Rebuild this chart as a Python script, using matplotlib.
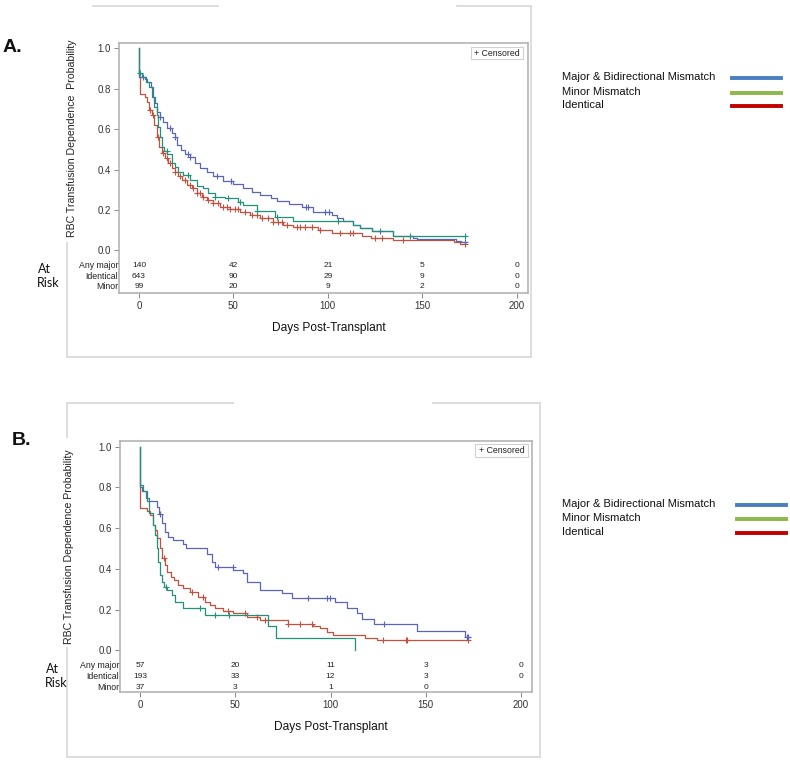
import numpy as np
import matplotlib
matplotlib.use("Agg")
import matplotlib.pyplot as plt
from matplotlib.lines import Line2D

plt.rcParams['font.family'] = ['Liberation Sans', 'DejaVu Sans']

# ---------------- DATA ----------------
groups = ["Any major", "Identical", "Minor"]
legend_labels = ["Major & Bidirectional Mismatch", "Minor Mismatch", "Identical"]
x_ticks = [0, 50, 100, 150, 200]
y_ticks = [0.0, 0.2, 0.4, 0.6, 0.8, 1.0]

# Panel A
A_major_t = [0, 0, 3.2, 4.4, 6.2, 7.6, 8.5, 9.7, 11.1, 12.9, 15.0, 17.3, 19.1, 20.3, 22.1, 24.4,
             27.0, 29.7, 32.3, 35.8, 39.4, 44.7, 50.0, 55.3, 59.7, 64.0, 70.0, 73.0, 79.6, 86.1,
             92.3, 102.0, 104.7, 108.2, 113.5, 117.0, 123.2, 134.6, 145.2, 147.0, 168.0, 170.5]
A_major_s = [1.0, 0.856, 0.846, 0.835, 0.807, 0.76, 0.728, 0.686, 0.66, 0.637, 0.604, 0.58, 0.56, 0.52, 0.497, 0.477,
             0.464, 0.43, 0.406, 0.389, 0.37, 0.343, 0.328, 0.307, 0.29, 0.274, 0.258, 0.246, 0.229, 0.216,
             0.191, 0.175, 0.161, 0.145, 0.125, 0.109, 0.096, 0.071, 0.063, 0.054, 0.046, 0.04]
A_major_end = 173.2
A_major_cens = [2.3, 11.1, 16.4, 19.1, 26.1, 27.0, 41.1, 48.5, 88.4, 89.7, 98.6, 100.4, 127.6, 172.6]

A_minor_t = [0, 0, 1.4, 3.7, 5.5, 6.7, 7.9, 9.4, 10.2, 11.1, 12.0, 13.2, 15.0, 17.3, 19.1, 20.8,
             23.5, 27.0, 30.5, 34.1, 36.7, 40.2, 45.5, 52.6, 55.3, 62.3, 72.0, 81.7, 113.5, 117.0,
             123.2, 134.6]
A_minor_s = [1.0, 0.88, 0.86, 0.835, 0.81, 0.76, 0.71, 0.67, 0.61, 0.56, 0.51, 0.49, 0.477, 0.43, 0.414, 0.389,
             0.373, 0.348, 0.32, 0.307, 0.282, 0.266, 0.26, 0.24, 0.224, 0.196, 0.166, 0.145, 0.125, 0.109,
             0.096, 0.071]
A_minor_end = 172.6
A_minor_cens = [0.5, 14.7, 26.1, 40.2, 47.3, 53.5, 62.3, 72.9, 105.6, 143.5, 172.6]

A_ident_t = [0, 0, 0.5, 3.2, 4.4, 5.5, 6.7, 7.9, 9.4, 10.8, 12.0, 13.8, 15.5, 17.3, 19.1, 20.8,
             22.6, 25.2, 27.9, 30.5, 33.2, 35.8, 39.4, 42.9, 48.2, 53.5, 58.8, 64.0, 71.0, 76.5,
             81.7, 95.0, 102.0, 118.0, 123.0, 134.6, 167.0, 170.0]
A_ident_s = [1.0, 0.86, 0.774, 0.76, 0.736, 0.695, 0.67, 0.62, 0.563, 0.513, 0.48, 0.455, 0.43, 0.406, 0.39, 0.37,
             0.348, 0.323, 0.307, 0.285, 0.266, 0.249, 0.233, 0.216, 0.203, 0.191, 0.175, 0.158, 0.142, 0.125,
             0.117, 0.1, 0.087, 0.071, 0.059, 0.051, 0.04, 0.033]
A_ident_end = 172.6
A_ident_cens = [5.8, 7.2, 10.2, 12.9, 14.7, 16.4, 19.1, 21.7, 24.4, 27.0, 28.8, 30.5, 32.3, 34.1, 36.7,
                39.4, 42.0, 44.7, 46.4, 48.2, 50.8, 52.6, 56.1, 59.7, 62.3, 65.0, 68.5, 71.1, 73.8,
                75.6, 78.2, 83.5, 85.3, 87.9, 91.4, 95.9, 106.4, 111.7, 113.5, 125.0, 128.5, 140.0, 172.6]

A_risk_major = [140, 42, 21, 5, 0]
A_risk_ident = [643, 90, 29, 9, 0]
A_risk_minor = [99, 20, 9, 2, 0]

# Panel B
B_major_t = [0, 0, 0.9, 3.8, 8.7, 10.1, 11.4, 13.1, 14.9, 17.1, 22.7, 24.1, 35.0, 37.6, 39.4, 49.0,
             54.2, 56.0, 63.0, 74.6, 79.8, 102.5, 108.6, 113.9, 116.5, 122.6, 145.4, 170.8]
B_major_s = [1.0, 0.80, 0.78, 0.733, 0.705, 0.67, 0.624, 0.583, 0.558, 0.542, 0.522, 0.504, 0.471, 0.435, 0.41, 0.394,
             0.378, 0.337, 0.296, 0.28, 0.258, 0.236, 0.206, 0.182, 0.154, 0.128, 0.095, 0.064]
B_major_end = 173.4
B_major_cens = [10.5, 41.1, 48.6, 88.4, 98.0, 99.7, 128.1, 171.5, 172.0]

B_minor_t = [0, 0, 1.4, 3.1, 4.9, 6.6, 7.9, 8.7, 9.6, 10.5, 11.4, 12.6, 14.0, 16.6, 18.4, 22.7,
             34.1, 67.4, 71.4, 112.9]
B_minor_s = [1.0, 0.81, 0.78, 0.746, 0.673, 0.615, 0.566, 0.5, 0.435, 0.37, 0.337, 0.313, 0.296, 0.272, 0.236, 0.206,
             0.173, 0.12, 0.059, 0.0]
B_minor_end = 112.9
B_minor_cens = [13.6, 31.5, 39.4, 46.7]

B_ident_t = [0, 0, 3.8, 5.2, 6.6, 7.9, 9.1, 10.5, 11.7, 13.1, 14.3, 16.1, 17.8, 20.1, 22.7, 26.2,
             30.6, 34.1, 36.7, 39.4, 43.7, 49.0, 56.0, 63.0, 77.7, 91.0, 94.5, 98.0, 101.5, 118.0, 124.2]
B_ident_s = [1.0, 0.697, 0.684, 0.664, 0.615, 0.59, 0.55, 0.5, 0.452, 0.419, 0.386, 0.362, 0.345, 0.32, 0.304, 0.288,
             0.263, 0.239, 0.223, 0.21, 0.195, 0.182, 0.165, 0.15, 0.128, 0.12, 0.108, 0.091, 0.075, 0.062, 0.05]
B_ident_end = 172.5
B_ident_cens = [12.6, 27.1, 32.9, 46.4, 55.1, 61.2, 65.6, 77.9, 84.0, 90.5, 127.7, 139.4, 140.0, 172.4]

B_risk_major = [57, 20, 11, 3, 0]
B_risk_ident = [193, 33, 12, 3, 0]
B_risk_minor = [37, 3, 1, 0]

# ---------------- STYLE ----------------
W, H = 790, 762
C_MAJOR = "#5B66B3"
C_MINOR = "#22917A"
C_IDENT = "#C4503F"
LEG_COLORS = ["#4A7EC3", "#8DB84A", "#C00000"]
FRAME = "#DADADA"
SPINE = "#B4B4B4"

fig = plt.figure(figsize=(W / 100, H / 100), dpi=100)


def fx(x):
    return x / W


def fy(y):
    return 1 - y / H


def hline(x0, x1, y, color=FRAME, lw=1.3):
    fig.add_artist(Line2D([fx(x0), fx(x1)], [fy(y), fy(y)], transform=fig.transFigure,
                          color=color, lw=lw))


def vline(x, y0, y1, color=FRAME, lw=1.3):
    fig.add_artist(Line2D([fx(x), fx(x)], [fy(y0), fy(y1)], transform=fig.transFigure,
                          color=color, lw=lw))


def km(ax, t, s, end, cens, color, z):
    tt = list(t) + [end]
    ss = list(s) + [s[-1]]
    ax.step(tt, ss, where='post', color=color, lw=0.9, zorder=z)
    ct = np.array(cens)
    idx = np.searchsorted(np.array(t), ct, side='right') - 1
    cs = np.array(s)[idx]
    ax.plot(ct, cs, linestyle='none', marker='+', color=color, ms=4.5, mew=0.8, zorder=z)


def panel(box, xlim, ylim, curves, risks, ylabel, ylab_xy, xlab_xy, cens_box, letter, letter_xy,
          atrisk_xy, legend_y, legend_x):
    x0, y0, x1, y1 = box
    ax = fig.add_axes([fx(x0), fy(y1), (x1 - x0) / W, (y1 - y0) / H])
    ax.set_xlim(*xlim)
    ax.set_ylim(*ylim)
    for sp in ax.spines.values():
        sp.set_color(SPINE)
        sp.set_linewidth(1.2)
    ax.set_xticks(x_ticks)
    ax.set_xticklabels([str(v) for v in x_ticks])
    ax.set_yticks(y_ticks)
    ax.set_yticklabels([f"{v:.1f}" for v in y_ticks])
    ax.tick_params(axis='both', labelsize=7, colors="#333333", length=3.5, width=0.7, pad=2.5)
    ax.tick_params(axis='both', color="#888888")
    for (t, s, end, cens, color, z) in curves:
        km(ax, t, s, end, cens, color, z)
    # at-risk table
    rows_y = [-0.073, -0.128, -0.181]
    for name, vals, ry in zip(groups, risks, rows_y):
        ax.text(-11.0, ry, name, ha='right', va='center', fontsize=6.3, color="#222222",
                clip_on=False)
        for xv, v in zip(x_ticks, vals):
            ax.text(xv, ry, str(v), ha='center', va='center', fontsize=6, color="#222222")
    # censored legend box
    cx0, cy0, cx1, cy1 = cens_box
    fig.add_artist(plt.Rectangle((fx(cx0), fy(cy1)), (cx1 - cx0) / W, (cy1 - cy0) / H,
                                 transform=fig.transFigure, fill=False, edgecolor="#D0D0D0", lw=0.8))
    fig.text(fx((cx0 + cx1) / 2), fy((cy0 + cy1) / 2), "+ Censored", ha='center', va='center',
             fontsize=6.3, color="#222222")
    # axis labels
    fig.text(fx(ylab_xy[0]), fy(ylab_xy[1]), ylabel, rotation=90, ha='center', va='center',
             fontsize=7.6, color="#222222")
    fig.text(fx(xlab_xy[0]), fy(xlab_xy[1]), "Days Post-Transplant", ha='center', va='center',
             fontsize=8.6, color="#111111")
    # letter
    fig.text(fx(letter_xy[0]), fy(letter_xy[1]), letter, ha='left', va='center', fontsize=14,
             fontweight='bold', color="#111111")
    # At Risk
    fig.text(fx(atrisk_xy[0]), fy(atrisk_xy[1]), "At", ha='center', va='center', fontsize=9,
             family=['Lato', 'DejaVu Sans'], color="#111111")
    fig.text(fx(atrisk_xy[0] + 4), fy(atrisk_xy[1] + 14), "Risk", ha='center', va='center',
             fontsize=9, family=['Lato', 'DejaVu Sans'], color="#111111")
    # group legend
    for i, (lab, col) in enumerate(zip(legend_labels, LEG_COLORS)):
        yy = legend_y[i]
        fig.text(fx(562), fy(yy), lab, ha='left', va='center', fontsize=8, color="#111111")
        fig.add_artist(Line2D([fx(legend_x[0]), fx(legend_x[1])], [fy(yy + 1), fy(yy + 1)],
                              transform=fig.transFigure, color=col, lw=2.8))
    return ax


# ---------- Panel A ----------
panel(box=(119.3, 42.7, 527.7, 292.7), xlim=(-10.4, 205.8), ylim=(-0.21, 1.028),
      curves=[(A_ident_t, A_ident_s, A_ident_end, A_ident_cens, C_IDENT, 3),
              (A_major_t, A_major_s, A_major_end, A_major_cens, C_MAJOR, 4),
              (A_minor_t, A_minor_s, A_minor_end, A_minor_cens, C_MINOR, 5)],
      risks=[A_risk_major, A_risk_ident, A_risk_minor],
      ylabel="RBC Transfusion Dependence  Probability", ylab_xy=(72, 138), xlab_xy=(329, 328),
      cens_box=(471, 47, 523, 59), letter="A.", letter_xy=(3, 48), atrisk_xy=(44, 269),
      legend_y=[77, 92, 105], legend_x=(732, 781))

# outer frame A
hline(93, 218, 6)
hline(457, 531, 6)
vline(531, 6, 357)
hline(67, 531, 357)
vline(67, 243, 357)

# ---------- Panel B ----------
panel(box=(120, 441, 531.7, 692), xlim=(-10.5, 205.6), ylim=(-0.205, 1.028),
      curves=[(B_ident_t, B_ident_s, B_ident_end, B_ident_cens, C_IDENT, 3),
              (B_major_t, B_major_s, B_major_end, B_major_cens, C_MAJOR, 4),
              (B_minor_t, B_minor_s, B_minor_end, B_minor_cens, C_MINOR, 5)],
      risks=[B_risk_major, B_risk_ident, B_risk_minor],
      ylabel="RBC Transfusion Dependence Probability", ylab_xy=(69, 547), xlab_xy=(331, 727),
      cens_box=(475, 444, 528, 457), letter="B.", letter_xy=(12, 440), atrisk_xy=(52, 669),
      legend_y=[504, 518, 532], legend_x=(737, 786))

# outer frame B
hline(67, 233, 403)
hline(433, 540, 403)
vline(540, 403, 757)
hline(67, 540, 757)
vline(67, 403, 437)
vline(67, 648, 757)

fig.savefig("out.png", dpi=100, facecolor="white")
